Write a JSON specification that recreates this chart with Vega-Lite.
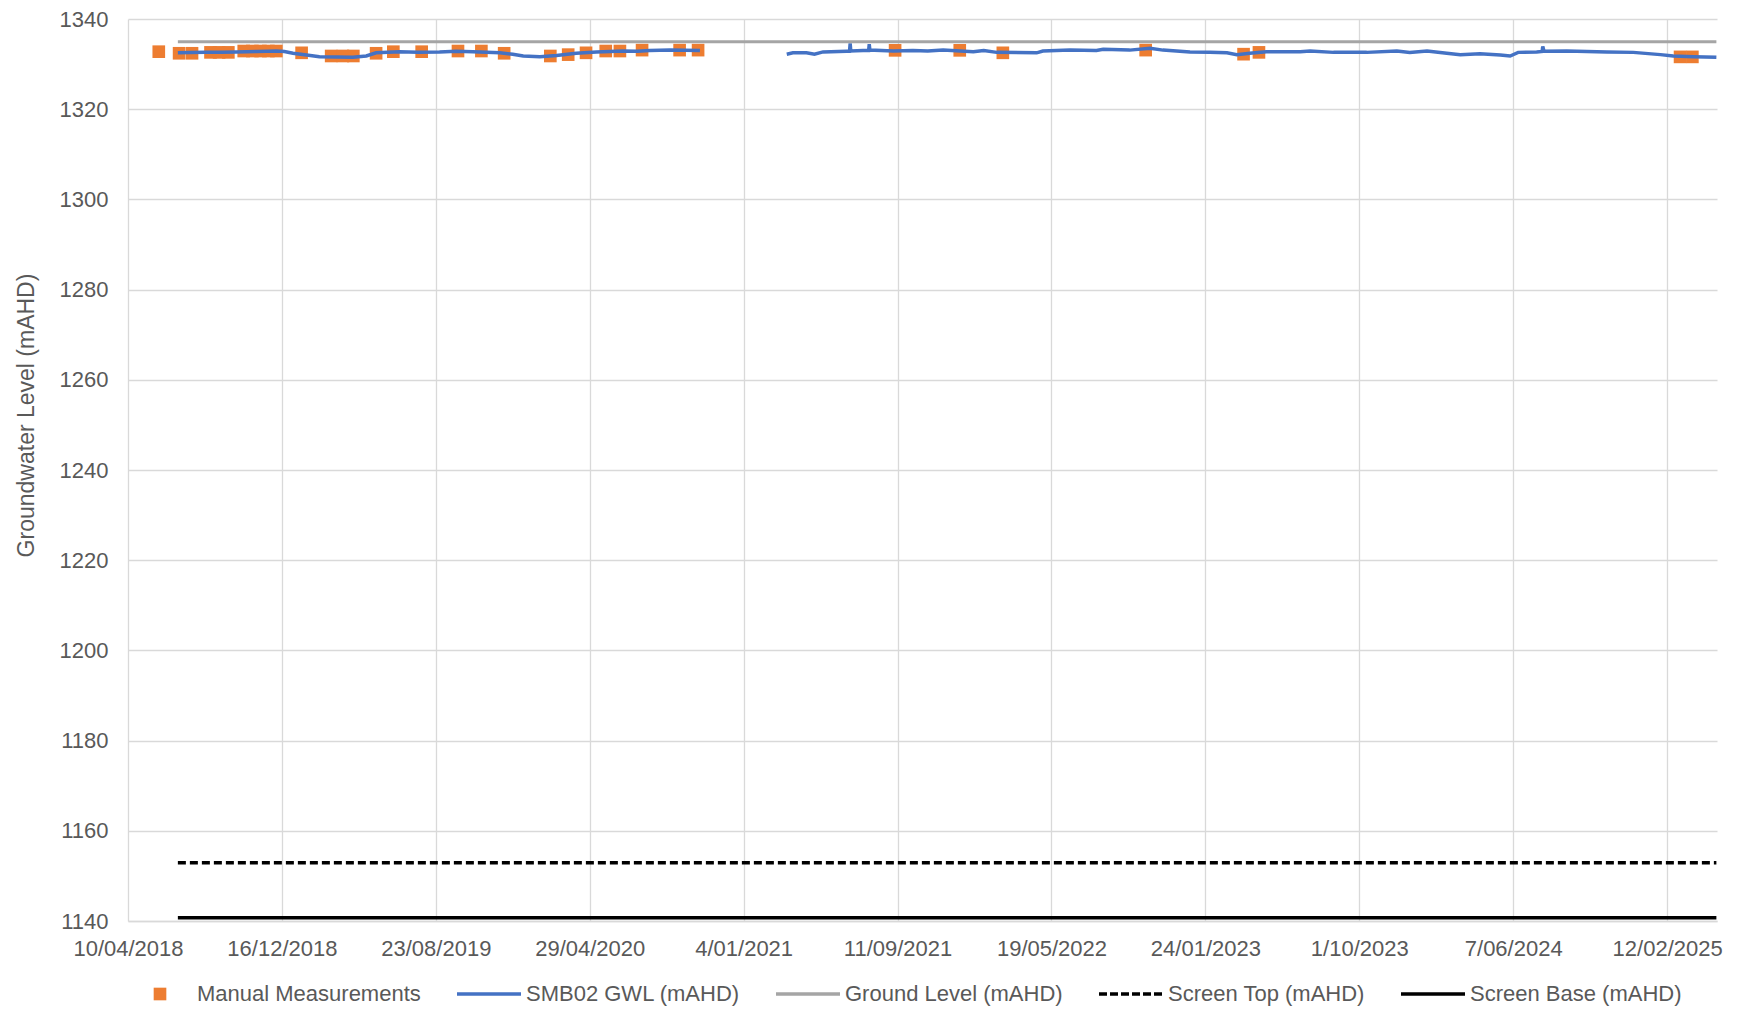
{
  "$schema": "https://vega.github.io/schema/vega-lite/v6.json",
  "autosize": {"type": "none"},
  "width": 1589,
  "height": 902,
  "padding": {"left": 128, "top": 19, "right": 21, "bottom": 91},
  "background": "#FFFFFF",
  "config": {
    "view": {"stroke": null},
    "font": "Liberation Sans",
    "axis": {"labelFont": "Liberation Sans", "titleFont": "Liberation Sans"},
    "legend": {"labelFont": "Liberation Sans"}
  },
  "data": {
    "values": [
      {"series": "Manual Measurements", "date": "2018-05-30", "level": 1332.75},
      {"series": "Manual Measurements", "date": "2018-07-02", "level": 1332.4},
      {"series": "Manual Measurements", "date": "2018-07-23", "level": 1332.4},
      {"series": "Manual Measurements", "date": "2018-08-22", "level": 1332.6},
      {"series": "Manual Measurements", "date": "2018-09-05", "level": 1332.6},
      {"series": "Manual Measurements", "date": "2018-09-20", "level": 1332.6},
      {"series": "Manual Measurements", "date": "2018-10-15", "level": 1332.9},
      {"series": "Manual Measurements", "date": "2018-10-29", "level": 1332.9},
      {"series": "Manual Measurements", "date": "2018-11-11", "level": 1332.9},
      {"series": "Manual Measurements", "date": "2018-11-24", "level": 1332.9},
      {"series": "Manual Measurements", "date": "2018-12-07", "level": 1332.9},
      {"series": "Manual Measurements", "date": "2019-01-17", "level": 1332.5},
      {"series": "Manual Measurements", "date": "2019-03-06", "level": 1331.8},
      {"series": "Manual Measurements", "date": "2019-03-25", "level": 1331.8},
      {"series": "Manual Measurements", "date": "2019-04-11", "level": 1331.8},
      {"series": "Manual Measurements", "date": "2019-05-18", "level": 1332.4},
      {"series": "Manual Measurements", "date": "2019-06-15", "level": 1332.75},
      {"series": "Manual Measurements", "date": "2019-07-31", "level": 1332.75},
      {"series": "Manual Measurements", "date": "2019-09-28", "level": 1332.9},
      {"series": "Manual Measurements", "date": "2019-11-05", "level": 1332.9},
      {"series": "Manual Measurements", "date": "2019-12-12", "level": 1332.4},
      {"series": "Manual Measurements", "date": "2020-02-25", "level": 1331.8},
      {"series": "Manual Measurements", "date": "2020-03-25", "level": 1332.1},
      {"series": "Manual Measurements", "date": "2020-04-23", "level": 1332.5},
      {"series": "Manual Measurements", "date": "2020-05-25", "level": 1332.9},
      {"series": "Manual Measurements", "date": "2020-06-17", "level": 1332.9},
      {"series": "Manual Measurements", "date": "2020-07-23", "level": 1333.1},
      {"series": "Manual Measurements", "date": "2020-09-22", "level": 1333.1},
      {"series": "Manual Measurements", "date": "2020-10-22", "level": 1333.1},
      {"series": "Manual Measurements", "date": "2021-09-07", "level": 1333.05},
      {"series": "Manual Measurements", "date": "2021-12-21", "level": 1333.05},
      {"series": "Manual Measurements", "date": "2022-03-01", "level": 1332.5},
      {"series": "Manual Measurements", "date": "2022-10-19", "level": 1333.1},
      {"series": "Manual Measurements", "date": "2023-03-27", "level": 1332.2},
      {"series": "Manual Measurements", "date": "2023-04-21", "level": 1332.6},
      {"series": "Manual Measurements", "date": "2025-03-05", "level": 1331.6},
      {"series": "Manual Measurements", "date": "2025-03-25", "level": 1331.6},

      {"series": "SMB02 GWL (mAHD)", "run": 1, "date": "2018-06-30", "level": 1332.5},
      {"series": "SMB02 GWL (mAHD)", "run": 1, "date": "2018-07-20", "level": 1332.55},
      {"series": "SMB02 GWL (mAHD)", "run": 1, "date": "2018-08-14", "level": 1332.6},
      {"series": "SMB02 GWL (mAHD)", "run": 1, "date": "2018-09-08", "level": 1332.65},
      {"series": "SMB02 GWL (mAHD)", "run": 1, "date": "2018-10-03", "level": 1332.7},
      {"series": "SMB02 GWL (mAHD)", "run": 1, "date": "2018-11-05", "level": 1332.8},
      {"series": "SMB02 GWL (mAHD)", "run": 1, "date": "2018-12-07", "level": 1332.9},
      {"series": "SMB02 GWL (mAHD)", "run": 1, "date": "2018-12-20", "level": 1332.8},
      {"series": "SMB02 GWL (mAHD)", "run": 1, "date": "2019-01-03", "level": 1332.4},
      {"series": "SMB02 GWL (mAHD)", "run": 1, "date": "2019-01-25", "level": 1332.0},
      {"series": "SMB02 GWL (mAHD)", "run": 1, "date": "2019-02-15", "level": 1331.65},
      {"series": "SMB02 GWL (mAHD)", "run": 1, "date": "2019-03-15", "level": 1331.55},
      {"series": "SMB02 GWL (mAHD)", "run": 1, "date": "2019-04-10", "level": 1331.5},
      {"series": "SMB02 GWL (mAHD)", "run": 1, "date": "2019-05-02", "level": 1331.8},
      {"series": "SMB02 GWL (mAHD)", "run": 1, "date": "2019-05-18", "level": 1332.5},
      {"series": "SMB02 GWL (mAHD)", "run": 1, "date": "2019-06-25", "level": 1332.76},
      {"series": "SMB02 GWL (mAHD)", "run": 1, "date": "2019-07-25", "level": 1332.65},
      {"series": "SMB02 GWL (mAHD)", "run": 1, "date": "2019-08-29", "level": 1332.7},
      {"series": "SMB02 GWL (mAHD)", "run": 1, "date": "2019-09-25", "level": 1332.85},
      {"series": "SMB02 GWL (mAHD)", "run": 1, "date": "2019-10-22", "level": 1332.76},
      {"series": "SMB02 GWL (mAHD)", "run": 1, "date": "2019-12-05", "level": 1332.5},
      {"series": "SMB02 GWL (mAHD)", "run": 1, "date": "2019-12-26", "level": 1332.2},
      {"series": "SMB02 GWL (mAHD)", "run": 1, "date": "2020-01-12", "level": 1331.8},
      {"series": "SMB02 GWL (mAHD)", "run": 1, "date": "2020-02-08", "level": 1331.65},
      {"series": "SMB02 GWL (mAHD)", "run": 1, "date": "2020-03-06", "level": 1331.9},
      {"series": "SMB02 GWL (mAHD)", "run": 1, "date": "2020-04-07", "level": 1332.4},
      {"series": "SMB02 GWL (mAHD)", "run": 1, "date": "2020-05-10", "level": 1332.7},
      {"series": "SMB02 GWL (mAHD)", "run": 1, "date": "2020-06-22", "level": 1332.9},
      {"series": "SMB02 GWL (mAHD)", "run": 1, "date": "2020-07-15", "level": 1332.85},
      {"series": "SMB02 GWL (mAHD)", "run": 1, "date": "2020-08-04", "level": 1333.0},
      {"series": "SMB02 GWL (mAHD)", "run": 1, "date": "2020-09-06", "level": 1333.1},
      {"series": "SMB02 GWL (mAHD)", "run": 1, "date": "2020-10-25", "level": 1333.0},

      {"series": "SMB02 GWL (mAHD)", "run": 2, "date": "2021-03-15", "level": 1332.2},
      {"series": "SMB02 GWL (mAHD)", "run": 2, "date": "2021-03-25", "level": 1332.5},
      {"series": "SMB02 GWL (mAHD)", "run": 2, "date": "2021-04-16", "level": 1332.5},
      {"series": "SMB02 GWL (mAHD)", "run": 2, "date": "2021-04-29", "level": 1332.2},
      {"series": "SMB02 GWL (mAHD)", "run": 2, "date": "2021-05-13", "level": 1332.7},
      {"series": "SMB02 GWL (mAHD)", "run": 2, "date": "2021-06-20", "level": 1332.85},
      {"series": "SMB02 GWL (mAHD)", "run": 2, "date": "2021-06-25", "level": 1332.85},
      {"series": "SMB02 GWL (mAHD)", "run": 2, "date": "2021-06-26", "level": 1334.6},
      {"series": "SMB02 GWL (mAHD)", "run": 2, "date": "2021-06-27", "level": 1332.9},
      {"series": "SMB02 GWL (mAHD)", "run": 2, "date": "2021-07-17", "level": 1333.0},
      {"series": "SMB02 GWL (mAHD)", "run": 2, "date": "2021-07-26", "level": 1333.0},
      {"series": "SMB02 GWL (mAHD)", "run": 2, "date": "2021-07-27", "level": 1334.4},
      {"series": "SMB02 GWL (mAHD)", "run": 2, "date": "2021-07-28", "level": 1333.1},
      {"series": "SMB02 GWL (mAHD)", "run": 2, "date": "2021-09-04", "level": 1332.9},
      {"series": "SMB02 GWL (mAHD)", "run": 2, "date": "2021-10-06", "level": 1333.0},
      {"series": "SMB02 GWL (mAHD)", "run": 2, "date": "2021-10-30", "level": 1332.9},
      {"series": "SMB02 GWL (mAHD)", "run": 2, "date": "2021-11-24", "level": 1333.1},
      {"series": "SMB02 GWL (mAHD)", "run": 2, "date": "2022-01-12", "level": 1332.76},
      {"series": "SMB02 GWL (mAHD)", "run": 2, "date": "2022-01-29", "level": 1333.0},
      {"series": "SMB02 GWL (mAHD)", "run": 2, "date": "2022-02-19", "level": 1332.6},
      {"series": "SMB02 GWL (mAHD)", "run": 2, "date": "2022-04-25", "level": 1332.5},
      {"series": "SMB02 GWL (mAHD)", "run": 2, "date": "2022-05-05", "level": 1332.9},
      {"series": "SMB02 GWL (mAHD)", "run": 2, "date": "2022-06-18", "level": 1333.1},
      {"series": "SMB02 GWL (mAHD)", "run": 2, "date": "2022-07-31", "level": 1333.0},
      {"series": "SMB02 GWL (mAHD)", "run": 2, "date": "2022-08-11", "level": 1333.3},
      {"series": "SMB02 GWL (mAHD)", "run": 2, "date": "2022-09-23", "level": 1333.1},
      {"series": "SMB02 GWL (mAHD)", "run": 2, "date": "2022-10-26", "level": 1333.5},
      {"series": "SMB02 GWL (mAHD)", "run": 2, "date": "2022-11-16", "level": 1333.1},
      {"series": "SMB02 GWL (mAHD)", "run": 2, "date": "2022-12-30", "level": 1332.7},
      {"series": "SMB02 GWL (mAHD)", "run": 2, "date": "2023-01-31", "level": 1332.6},
      {"series": "SMB02 GWL (mAHD)", "run": 2, "date": "2023-02-28", "level": 1332.5},
      {"series": "SMB02 GWL (mAHD)", "run": 2, "date": "2023-03-16", "level": 1332.1},
      {"series": "SMB02 GWL (mAHD)", "run": 2, "date": "2023-04-06", "level": 1332.4},
      {"series": "SMB02 GWL (mAHD)", "run": 2, "date": "2023-05-03", "level": 1332.76},
      {"series": "SMB02 GWL (mAHD)", "run": 2, "date": "2023-06-27", "level": 1332.76},
      {"series": "SMB02 GWL (mAHD)", "run": 2, "date": "2023-07-13", "level": 1332.9},
      {"series": "SMB02 GWL (mAHD)", "run": 2, "date": "2023-08-20", "level": 1332.6},
      {"series": "SMB02 GWL (mAHD)", "run": 2, "date": "2023-10-13", "level": 1332.6},
      {"series": "SMB02 GWL (mAHD)", "run": 2, "date": "2023-12-01", "level": 1332.9},
      {"series": "SMB02 GWL (mAHD)", "run": 2, "date": "2023-12-22", "level": 1332.6},
      {"series": "SMB02 GWL (mAHD)", "run": 2, "date": "2024-01-19", "level": 1332.9},
      {"series": "SMB02 GWL (mAHD)", "run": 2, "date": "2024-02-20", "level": 1332.4},
      {"series": "SMB02 GWL (mAHD)", "run": 2, "date": "2024-03-13", "level": 1332.1},
      {"series": "SMB02 GWL (mAHD)", "run": 2, "date": "2024-04-14", "level": 1332.3},
      {"series": "SMB02 GWL (mAHD)", "run": 2, "date": "2024-05-17", "level": 1332.0},
      {"series": "SMB02 GWL (mAHD)", "run": 2, "date": "2024-06-02", "level": 1331.8},
      {"series": "SMB02 GWL (mAHD)", "run": 2, "date": "2024-06-15", "level": 1332.6},
      {"series": "SMB02 GWL (mAHD)", "run": 2, "date": "2024-07-15", "level": 1332.7},
      {"series": "SMB02 GWL (mAHD)", "run": 2, "date": "2024-07-24", "level": 1332.8},
      {"series": "SMB02 GWL (mAHD)", "run": 2, "date": "2024-07-25", "level": 1333.9},
      {"series": "SMB02 GWL (mAHD)", "run": 2, "date": "2024-07-27", "level": 1332.85},
      {"series": "SMB02 GWL (mAHD)", "run": 2, "date": "2024-09-02", "level": 1332.9},
      {"series": "SMB02 GWL (mAHD)", "run": 2, "date": "2024-11-06", "level": 1332.7},
      {"series": "SMB02 GWL (mAHD)", "run": 2, "date": "2024-12-19", "level": 1332.6},
      {"series": "SMB02 GWL (mAHD)", "run": 2, "date": "2025-02-01", "level": 1332.1},
      {"series": "SMB02 GWL (mAHD)", "run": 2, "date": "2025-02-22", "level": 1331.8},
      {"series": "SMB02 GWL (mAHD)", "run": 2, "date": "2025-03-27", "level": 1331.65},
      {"series": "SMB02 GWL (mAHD)", "run": 2, "date": "2025-05-03", "level": 1331.5},

      {"series": "Ground Level (mAHD)", "date": "2018-06-30", "level": 1334.95},
      {"series": "Ground Level (mAHD)", "date": "2025-05-03", "level": 1334.95},
      {"series": "Screen Top (mAHD)", "date": "2018-06-30", "level": 1152.9},
      {"series": "Screen Top (mAHD)", "date": "2025-05-03", "level": 1152.9},
      {"series": "Screen Base (mAHD)", "date": "2018-06-30", "level": 1140.7},
      {"series": "Screen Base (mAHD)", "date": "2025-05-03", "level": 1140.7}
    ]
  },
  "encoding": {
    "x": {
      "field": "date",
      "type": "temporal",
      "scale": {
        "type": "utc",
        "nice": false,
        "domain": [
          {"year": 2018, "month": 4, "date": 10, "utc": true},
          {"year": 2025, "month": 5, "date": 4, "utc": true}
        ]
      },
      "axis": {
        "title": null,
        "values": [
          {"year": 2018, "month": 4, "date": 10, "utc": true},
          {"year": 2018, "month": 12, "date": 16, "utc": true},
          {"year": 2019, "month": 8, "date": 23, "utc": true},
          {"year": 2020, "month": 4, "date": 29, "utc": true},
          {"year": 2021, "month": 1, "date": 4, "utc": true},
          {"year": 2021, "month": 9, "date": 11, "utc": true},
          {"year": 2022, "month": 5, "date": 19, "utc": true},
          {"year": 2023, "month": 1, "date": 24, "utc": true},
          {"year": 2023, "month": 10, "date": 1, "utc": true},
          {"year": 2024, "month": 6, "date": 7, "utc": true},
          {"year": 2025, "month": 2, "date": 12, "utc": true}
        ],
        "format": "%-d/%m/%Y",
        "labelFontSize": 22,
        "labelColor": "#595959",
        "labelPadding": 17,
        "labelFlush": false,
        "labelOverlap": false,
        "ticks": false,
        "grid": true,
        "gridColor": "#D9D9D9",
        "gridWidth": 1.3,
        "domainColor": "#D9D9D9",
        "domainWidth": 1.3
      }
    },
    "y": {
      "field": "level",
      "type": "quantitative",
      "scale": {"domain": [1140, 1340], "nice": false, "zero": false},
      "axis": {
        "title": "Groundwater Level (mAHD)",
        "values": [1140, 1160, 1180, 1200, 1220, 1240, 1260, 1280, 1300, 1320, 1340],
        "format": "d",
        "labelFontSize": 22,
        "labelColor": "#595959",
        "labelPadding": 20,
        "ticks": false,
        "domain": false,
        "grid": true,
        "gridColor": "#D9D9D9",
        "gridWidth": 1.3,
        "titleFontSize": 23,
        "titleFontWeight": "normal",
        "titleColor": "#595959",
        "titleX": -102,
        "titleY": 396,
        "titleBaseline": "middle"
      }
    },
    "color": {
      "field": "series",
      "type": "nominal",
      "scale": {
        "domain": ["Manual Measurements", "SMB02 GWL (mAHD)", "Ground Level (mAHD)", "Screen Top (mAHD)", "Screen Base (mAHD)"],
        "range": ["#ED7D31", "#4472C4", "#A5A5A5", "#000000", "#000000"]
      },
      "legend": {
        "orient": "none",
        "legendX": 0,
        "legendY": 964,
        "direction": "horizontal",
        "title": null,
        "padding": 0,
        "labelFontSize": 22,
        "labelColor": "#595959",
        "labelLimit": 400,
        "labelOffset": 26,
        "symbolOffset": 21,
        "columnPadding": 29,
        "symbolType": "stroke",
        "symbolSize": 4096,
        "symbolStrokeWidth": 3.5,
        "encode": {
          "symbols": {
            "update": {
              "shape": {"signal": "datum.value === 'Manual Measurements' ? 'square' : 'stroke'"},
              "size": {"signal": "datum.value === 'Manual Measurements' ? 160 : 4096"},
              "fill": {"signal": "datum.value === 'Manual Measurements' ? '#ED7D31' : 'transparent'"},
              "stroke": {"signal": "datum.value === 'Manual Measurements' ? 'transparent' : (datum.value === 'SMB02 GWL (mAHD)' ? '#4472C4' : (datum.value === 'Ground Level (mAHD)' ? '#A5A5A5' : '#000000'))"},
              "strokeWidth": {"signal": "datum.value === 'Manual Measurements' ? 0 : 3.5"},
              "strokeDash": {"signal": "datum.value === 'Screen Top (mAHD)' ? [8, 3] : [1, 0]"},
              "opacity": {"value": 1}
            }
          }
        }
      }
    }
  },
  "layer": [
    {
      "transform": [{"filter": "datum.series === 'Manual Measurements'"}],
      "mark": {"type": "point", "shape": "square", "filled": true, "size": 160, "opacity": 1}
    },
    {
      "transform": [{"filter": "datum.series === 'SMB02 GWL (mAHD)'"}],
      "mark": {"type": "line", "strokeWidth": 3.5},
      "encoding": {"detail": {"field": "run", "type": "nominal"}}
    },
    {
      "transform": [{"filter": "datum.series === 'Ground Level (mAHD)'"}],
      "mark": {"type": "line", "strokeWidth": 3},
      "encoding": {}
    },
    {
      "transform": [{"filter": "datum.series === 'Screen Top (mAHD)'"}],
      "mark": {"type": "line", "strokeWidth": 3.5, "strokeDash": [8, 4]},
      "encoding": {}
    },
    {
      "transform": [{"filter": "datum.series === 'Screen Base (mAHD)'"}],
      "mark": {"type": "line", "strokeWidth": 3.5},
      "encoding": {}
    }
  ]
}
